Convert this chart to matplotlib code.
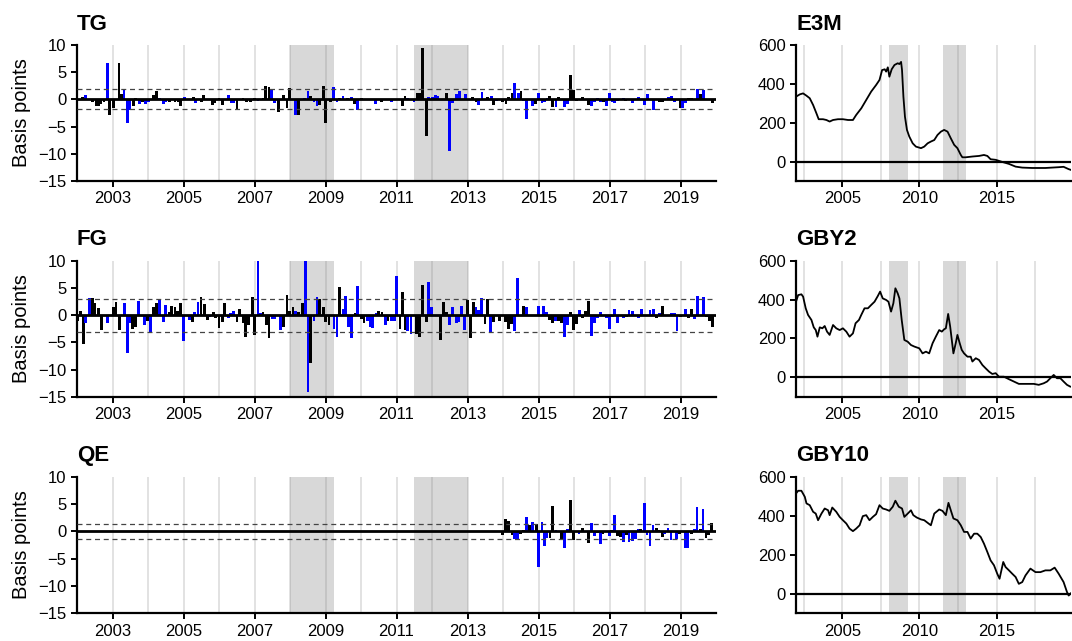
import matplotlib.pyplot as plt

plt.rcParams['font.family'] = ['Liberation Sans', 'DejaVu Sans']

# policy surprise factors: (months since Jan 2002, basis points, colour code)
tg_events = [
    (1.9, 0.4, 'k'), (3.0, 0.8, 'b'), (5.3, -0.4, 'k'), (6.4, -1.3, 'k'), (7.2, -1.3, 'k'),
    (8.0, -0.8, 'k'), (9.1, -0.4, 'k'), (10.2, 6.6, 'b'), (11.1, -2.9, 'k'), (12.3, -1.6, 'k'),
    (14.2, 6.6, 'k'), (15.1, 1.0, 'k'), (15.9, 2.0, 'b'), (17.0, -4.3, 'b'), (17.9, -2.0, 'b'),
    (19.0, -1.2, 'k'), (19.9, 0.3, 'k'), (21.0, -0.8, 'b'), (22.0, -0.4, 'k'), (23.2, -0.8, 'b'),
    (24.1, -0.4, 'b'), (26.0, 0.9, 'k'), (26.9, 1.6, 'k'), (28.0, 0.3, 'b'), (29.1, -0.8, 'b'),
    (30.0, -0.5, 'b'), (31.2, -0.5, 'k'), (33.1, -0.4, 'k'), (34.2, -0.5, 'k'), (35.1, -1.2, 'k'),
    (36.2, 0.5, 'b'), (39.3, 0.4, 'k'), (40.1, -0.6, 'b'), (42.1, -0.4, 'k'), (42.9, 0.8, 'k'),
    (45.8, -1.0, 'k'), (46.6, -0.6, 'k'), (48.0, 0.2, 'k'), (49.2, -1.0, 'k'), (51.1, 0.8, 'b'),
    (52.2, -0.6, 'b'), (53.0, -0.6, 'b'), (54.1, -1.7, 'k'), (56.1, 0.3, 'k'), (57.3, -0.4, 'k'),
    (58.6, -0.4, 'k'), (60.1, 0.3, 'k'), (61.2, -0.3, 'b'), (62.9, 0.3, 'k'), (63.8, 2.5, 'k'),
    (64.9, 2.3, 'k'), (65.8, 1.8, 'b'), (66.8, -0.7, 'b'), (68.0, -2.4, 'k'), (69.9, 0.8, 'k'),
    (71.0, -1.5, 'k'), (71.9, 2.1, 'k'), (73.9, -2.8, 'b'), (74.9, -2.8, 'k'), (76.9, 0.2, 'b'),
    (78.1, 1.5, 'b'), (78.9, 0.6, 'k'), (80.1, -0.4, 'b'), (81.1, -1.2, 'b'), (82.0, -1.0, 'k'),
    (83.2, 2.5, 'k'), (84.0, -4.3, 'k'), (85.6, -0.4, 'k'), (86.7, 2.3, 'b'), (87.9, -0.4, 'b'),
    (88.8, 0.3, 'k'), (89.9, 0.7, 'b'), (91.3, 0.3, 'k'), (92.7, 0.5, 'b'), (93.8, -0.8, 'k'),
    (94.9, -2.0, 'b'), (96.1, 0.3, 'k'), (100.9, -0.8, 'b'), (103.0, -0.4, 'k'), (106.2, -0.4, 'b'),
    (109.9, -1.2, 'k'), (110.9, 0.6, 'k'), (111.8, 0.2, 'b'), (113.9, -0.5, 'b'), (115.2, 1.2, 'k'),
    (116.0, 1.2, 'k'), (116.9, 9.4, 'k'), (118.0, -6.7, 'k'), (118.9, 0.5, 'b'), (120.1, 0.4, 'b'),
    (121.1, 0.9, 'b'), (122.0, 0.6, 'b'), (125.0, 1.2, 'k'), (125.9, -9.5, 'b'), (127.0, -0.7, 'b'),
    (128.2, 1.0, 'b'), (129.3, 1.6, 'b'), (131.2, 1.0, 'b'), (133.8, 0.4, 'k'), (134.9, -0.4, 'k'),
    (135.8, -1.1, 'b'), (136.9, 1.3, 'b'), (138.9, 0.4, 'k'), (140.0, 0.6, 'b'), (140.9, -1.0, 'k'),
    (141.9, -0.3, 'b'), (143.9, -0.5, 'k'), (145.0, -0.8, 'k'), (145.9, 0.5, 'k'), (147.1, 1.1, 'k'),
    (147.9, 3.0, 'b'), (149.1, 1.1, 'b'), (150.1, 1.5, 'k'), (151.0, -0.3, 'b'), (152.0, -3.6, 'b'),
    (154.0, -1.2, 'b'), (154.9, -0.8, 'k'), (156.1, 1.2, 'b'), (157.2, -0.7, 'b'), (158.0, -0.4, 'b'),
    (158.9, 0.3, 'b'), (159.6, 0.6, 'k'), (160.8, -1.4, 'k'), (161.9, -1.4, 'b'), (162.8, 0.4, 'k'),
    (164.7, -1.4, 'b'), (165.9, -0.8, 'b'), (166.9, 4.4, 'k'), (167.8, 1.7, 'k'), (168.9, -0.3, 'k'),
    (170.9, 0.4, 'k'), (172.8, -1.0, 'k'), (174.0, -1.2, 'b'), (174.9, -0.5, 'b'), (176.0, 0.3, 'b'),
    (176.9, -0.4, 'b'), (178.0, -0.4, 'k'), (179.0, -1.2, 'b'), (179.9, 1.2, 'b'), (181.0, -0.4, 'b'),
    (181.8, -0.7, 'b'), (182.7, -0.3, 'b'), (184.7, 0.3, 'b'), (185.5, -0.3, 'k'), (187.8, -0.6, 'b'),
    (189.8, 0.5, 'b'), (191.7, -1.0, 'b'), (192.9, 1.0, 'b'), (194.9, -2.0, 'b'), (196.8, -0.4, 'k'),
    (197.9, -0.5, 'k'), (199.9, 0.4, 'b'), (201.0, 0.7, 'b'), (201.9, -0.4, 'b'), (203.9, -1.6, 'k'),
    (204.7, -1.5, 'b'), (205.6, -0.6, 'b'), (206.7, 0.3, 'k'), (207.6, 0.3, 'k'), (209.7, 1.9, 'b'),
    (210.9, 1.0, 'k'), (211.7, 1.7, 'b'), (214.8, -0.6, 'k'),
]

fg_events = [
    (0.2, -1.0, 'k'), (1.2, 0.8, 'k'), (2.1, -5.3, 'k'), (3.0, -1.4, 'b'), (4.2, 3.2, 'b'),
    (5.1, 3.2, 'k'), (6.1, 2.3, 'k'), (7.2, 1.3, 'k'), (8.2, -2.8, 'k'), (10.2, -1.4, 'b'),
    (12.3, 1.4, 'k'), (13.2, 2.5, 'k'), (14.3, -2.7, 'k'), (16.0, 2.3, 'b'), (17.0, -6.9, 'b'),
    (17.9, -1.4, 'b'), (18.8, -2.6, 'k'), (19.9, -2.1, 'k'), (20.9, 2.6, 'b'), (22.9, -1.8, 'b'),
    (23.9, -1.0, 'k'), (24.9, -3.3, 'b'), (26.0, 1.4, 'k'), (26.9, 2.3, 'k'), (28.0, 3.0, 'b'),
    (29.1, -1.2, 'b'), (30.0, 1.8, 'b'), (31.1, 0.6, 'k'), (31.9, 1.7, 'k'), (33.1, 1.4, 'k'),
    (34.0, 0.7, 'k'), (35.0, 2.3, 'k'), (36.1, -4.8, 'b'), (38.1, -0.9, 'b'), (39.0, -1.3, 'k'),
    (39.8, 0.6, 'b'), (40.9, 2.5, 'b'), (41.9, 3.3, 'k'), (43.0, 2.1, 'k'), (44.0, -0.9, 'k'),
    (44.9, -0.4, 'b'), (46.0, 0.5, 'k'), (46.9, -0.5, 'k'), (48.0, -2.4, 'k'), (49.1, -1.3, 'k'),
    (49.9, 2.2, 'k'), (51.1, -0.5, 'b'), (52.0, 0.3, 'b'), (53.0, 0.8, 'b'), (54.1, -1.2, 'k'),
    (55.0, 1.2, 'k'), (56.1, -1.4, 'k'), (57.0, -4.0, 'k'), (58.1, -1.8, 'k'), (59.2, 3.4, 'k'),
    (60.1, -3.7, 'k'), (61.2, 10.0, 'b'), (62.1, 0.3, 'b'), (62.9, 0.5, 'k'), (64.0, -1.8, 'k'),
    (64.9, -4.2, 'k'), (65.9, -0.7, 'b'), (66.8, -0.7, 'b'), (68.8, -2.7, 'b'), (69.9, -2.2, 'k'),
    (71.0, 3.7, 'k'), (71.9, 0.7, 'k'), (73.0, 1.4, 'k'), (73.9, 0.8, 'b'), (75.0, 0.5, 'k'),
    (76.1, 2.3, 'k'), (77.2, 10.0, 'b'), (78.1, -14.2, 'b'), (79.0, -8.8, 'k'), (80.1, -1.0, 'b'),
    (81.1, 3.4, 'b'), (82.0, 2.9, 'k'), (83.2, 1.4, 'k'), (84.0, -1.3, 'k'), (85.2, -1.8, 'k'),
    (86.9, -2.6, 'b'), (87.9, -4.0, 'b'), (88.8, 5.2, 'k'), (89.9, 1.2, 'b'), (90.8, 3.6, 'b'),
    (91.9, -2.2, 'b'), (92.9, -4.2, 'b'), (94.1, 0.4, 'k'), (94.9, 5.4, 'b'), (96.1, -0.8, 'k'),
    (97.0, -1.4, 'k'), (98.3, -1.0, 'b'), (99.1, -2.2, 'b'), (100.0, -2.4, 'b'), (101.1, 0.3, 'b'),
    (102.0, 0.8, 'k'), (103.1, 0.5, 'k'), (104.2, -1.8, 'b'), (105.1, -1.0, 'k'), (106.2, -1.0, 'b'),
    (107.3, -1.0, 'b'), (108.1, 7.1, 'b'), (109.2, -2.5, 'k'), (109.9, 4.3, 'k'), (110.9, -2.7, 'k'),
    (111.8, -3.0, 'b'), (112.9, -3.5, 'b'), (114.7, -3.5, 'k'), (115.8, -4.0, 'k'), (116.9, 5.6, 'k'),
    (118.0, -1.2, 'k'), (118.9, 6.1, 'b'), (119.9, 1.4, 'b'), (122.9, -4.5, 'k'), (124.0, 2.5, 'k'),
    (125.0, 0.5, 'k'), (125.9, -1.9, 'b'), (127.0, 1.4, 'b'), (128.2, -1.4, 'b'), (129.1, -1.3, 'b'),
    (130.0, 1.7, 'b'), (131.1, -2.8, 'b'), (132.1, 2.8, 'k'), (133.1, -4.2, 'k'), (133.9, 2.4, 'k'),
    (134.9, 1.5, 'b'), (135.8, 1.0, 'b'), (136.8, 3.2, 'b'), (137.9, -1.7, 'k'), (138.9, 2.9, 'k'),
    (139.9, -3.3, 'b'), (140.9, -1.2, 'k'), (142.8, -1.0, 'k'), (144.8, -1.2, 'k'), (145.9, -2.5, 'k'),
    (146.9, -1.6, 'k'), (147.9, -3.0, 'b'), (149.0, 6.8, 'b'), (151.0, 1.6, 'k'), (152.0, 1.4, 'b'),
    (156.1, 1.6, 'b'), (157.8, 1.6, 'b'), (158.8, 0.6, 'b'), (159.6, -0.9, 'k'), (160.8, -1.4, 'k'),
    (161.7, -1.0, 'b'), (162.8, -1.0, 'k'), (163.8, -1.4, 'k'), (164.8, -4.0, 'b'), (165.7, -1.8, 'b'),
    (166.7, 0.6, 'k'), (167.9, -2.7, 'k'), (168.9, -1.7, 'k'), (169.8, 1.0, 'b'), (170.9, -0.5, 'k'),
    (172.0, 0.7, 'k'), (172.9, 2.6, 'k'), (174.0, -3.9, 'b'), (174.9, -1.5, 'b'), (176.0, -0.5, 'b'),
    (176.9, 0.6, 'b'), (179.0, -0.5, 'b'), (179.9, -2.6, 'b'), (181.0, -0.3, 'b'), (181.8, 1.1, 'b'),
    (182.7, -1.4, 'b'), (184.7, -0.5, 'b'), (185.7, -0.3, 'k'), (186.6, 1.0, 'b'), (187.8, 0.8, 'b'),
    (188.9, -0.2, 'k'), (189.8, -0.6, 'b'), (190.9, 1.2, 'b'), (193.7, 1.0, 'b'), (194.9, 1.1, 'b'),
    (195.9, -0.6, 'k'), (197.0, 0.4, 'b'), (197.9, 1.7, 'k'), (201.0, 0.3, 'b'), (201.9, 0.3, 'b'),
    (202.8, -2.9, 'b'), (203.9, -0.4, 'k'), (204.9, -0.2, 'b'), (205.8, 1.2, 'b'), (206.7, -0.6, 'k'),
    (207.7, 1.2, 'k'), (208.8, -0.8, 'b'), (209.7, 3.6, 'b'), (211.7, 3.3, 'b'), (212.9, -0.4, 'k'),
    (213.7, -1.0, 'k'), (214.8, -2.1, 'k'),
]

qe_events = [
    (143.9, -0.6, 'k'), (144.8, 2.3, 'k'), (145.9, 1.9, 'k'), (147.1, -0.7, 'k'), (148.0, -1.4, 'b'),
    (149.0, -1.4, 'b'), (150.0, -0.4, 'k'), (150.9, 0.2, 'k'), (152.0, 2.7, 'b'), (152.9, 1.2, 'k'),
    (154.0, 1.7, 'b'), (155.2, 1.4, 'k'), (156.1, -6.6, 'b'), (157.2, 1.7, 'b'), (157.9, -2.7, 'b'),
    (158.9, -1.2, 'b'), (159.9, -1.3, 'k'), (160.8, 4.6, 'k'), (161.9, 0.3, 'b'), (163.9, -1.5, 'k'),
    (164.9, -3.0, 'b'), (165.8, 0.4, 'b'), (166.7, 5.8, 'k'), (167.8, -1.5, 'k'), (169.7, -0.4, 'b'),
    (170.9, 0.6, 'k'), (172.9, -2.2, 'k'), (173.9, 1.6, 'b'), (174.9, -0.8, 'b'), (175.9, -0.3, 'k'),
    (176.9, -2.4, 'b'), (177.8, -0.4, 'k'), (179.9, -0.9, 'b'), (180.8, 0.2, 'k'), (181.7, 3.0, 'b'),
    (182.7, -0.9, 'k'), (183.7, -1.0, 'k'), (184.7, -2.0, 'b'), (185.8, -0.7, 'k'), (186.6, -1.9, 'b'),
    (187.8, -1.8, 'b'), (188.7, -1.4, 'b'), (189.8, 0.5, 'b'), (190.6, 0.4, 'k'), (191.7, 5.2, 'b'),
    (192.7, -0.6, 'b'), (193.7, -2.6, 'b'), (194.7, 1.2, 'b'), (195.8, 0.7, 'k'), (196.7, 0.3, 'k'),
    (197.8, -1.1, 'k'), (198.7, -0.4, 'b'), (199.8, 0.6, 'b'), (200.8, -1.6, 'b'), (202.6, -1.4, 'b'),
    (203.6, -0.4, 'k'), (205.6, -3.0, 'b'), (206.5, -3.0, 'b'), (207.7, -0.5, 'k'), (208.6, 0.4, 'b'),
    (209.6, 4.5, 'b'), (210.7, 0.4, 'k'), (211.6, 4.0, 'b'), (212.6, -1.3, 'k'), (213.5, -0.6, 'k'),
    (214.6, 1.5, 'k'),
]

# standard deviation bands (bp)
band_tg = 1.85
band_fg = 3.05
band_qe = 1.4

# yields, bp
e3m_year = [2002.00, 2002.25, 2002.46, 2002.68, 2002.89, 2003.11, 2003.32, 2003.47, 2003.75, 2003.97,
            2004.18, 2004.40, 2004.72, 2005.04, 2005.37, 2005.69, 2005.90, 2006.23, 2006.55, 2006.87,
            2007.19, 2007.41, 2007.58, 2007.75, 2007.84, 2007.95, 2008.05, 2008.20, 2008.38, 2008.59,
            2008.70, 2008.81, 2008.87, 2008.96, 2009.06, 2009.19, 2009.34, 2009.56, 2009.77, 2010.10,
            2010.31, 2010.53, 2010.74, 2010.96, 2011.17, 2011.39, 2011.60, 2011.82, 2012.03, 2012.25,
            2012.46, 2012.68, 2012.78, 2013.00, 2013.43, 2013.86, 2014.18, 2014.40, 2014.61, 2014.94,
            2015.37, 2015.80, 2016.23, 2016.66, 2017.30, 2018.16, 2019.02, 2019.34, 2019.67, 2019.82]
e3m_bp = [334, 346, 351, 339, 326, 291, 249, 218, 218, 214,
          206, 214, 218, 218, 214, 214, 240, 274, 317, 360,
          394, 420, 471, 475, 463, 485, 437, 475, 497, 506,
          502, 513, 471, 334, 231, 163, 129, 94, 77, 69,
          77, 94, 103, 111, 137, 154, 163, 154, 120, 86,
          69, 34, 22, 22, 26, 29, 34, 29, 12, 9,
          -2, -12, -26, -31, -33, -33, -29, -27, -39, -43]

gby2_year = [2002.00, 2002.14, 2002.35, 2002.46, 2002.63, 2002.78, 2003.00, 2003.15, 2003.28, 2003.39,
             2003.54, 2003.71, 2003.86, 2004.01, 2004.18, 2004.40, 2004.61, 2004.83, 2005.04, 2005.26,
             2005.47, 2005.69, 2005.86, 2006.08, 2006.23, 2006.44, 2006.66, 2006.87, 2007.09, 2007.30,
             2007.45, 2007.62, 2007.84, 2007.99, 2008.16, 2008.31, 2008.44, 2008.59, 2008.70, 2008.85,
             2009.02, 2009.24, 2009.45, 2009.67, 2009.99, 2010.20, 2010.42, 2010.63, 2010.85, 2011.06,
             2011.28, 2011.45, 2011.60, 2011.71, 2011.86, 2011.99, 2012.20, 2012.35, 2012.46, 2012.61,
             2012.74, 2012.89, 2013.11, 2013.32, 2013.43, 2013.65, 2013.86, 2014.08, 2014.29, 2014.51,
             2014.72, 2014.94, 2015.15, 2015.47, 2015.80, 2016.12, 2016.44, 2016.76, 2017.09, 2017.41,
             2017.73, 2018.05, 2018.27, 2018.48, 2018.70, 2018.91, 2019.13, 2019.34, 2019.56, 2019.77]
gby2_bp = [389, 423, 427, 415, 355, 321, 295, 257, 243, 209,
           257, 252, 264, 235, 218, 269, 252, 243, 252, 235,
           209, 226, 278, 295, 321, 355, 355, 372, 389, 418,
           441, 406, 398, 389, 338, 381, 458, 432, 406, 295,
           192, 183, 166, 158, 149, 123, 132, 123, 175, 209,
           243, 235, 247, 252, 326, 261, 123, 175, 218, 175,
           141, 123, 106, 106, 81, 98, 89, 63, 46, 29,
           17, 21, 3, 3, -10, -22, -34, -34, -34, -34,
           -39, -31, -22, -5, 12, -5, -5, -22, -39, -48]

gby10_year = [2002.00, 2002.14, 2002.35, 2002.57, 2002.68, 2002.89, 2003.11, 2003.28, 2003.43, 2003.65,
              2003.86, 2004.08, 2004.18, 2004.35, 2004.61, 2004.83, 2005.04, 2005.26, 2005.47, 2005.69,
              2005.90, 2006.12, 2006.33, 2006.55, 2006.76, 2006.98, 2007.19, 2007.41, 2007.62, 2007.84,
              2008.05, 2008.27, 2008.44, 2008.66, 2008.87, 2009.02, 2009.24, 2009.45, 2009.60, 2009.82,
              2010.10, 2010.31, 2010.59, 2010.74, 2010.96, 2011.28, 2011.49, 2011.71, 2011.88, 2012.03,
              2012.20, 2012.46, 2012.68, 2012.89, 2013.11, 2013.32, 2013.54, 2013.75, 2013.97, 2014.18,
              2014.40, 2014.61, 2014.83, 2015.04, 2015.19, 2015.43, 2015.58, 2015.80, 2016.01, 2016.23,
              2016.44, 2016.66, 2016.87, 2017.19, 2017.52, 2017.84, 2018.16, 2018.48, 2018.76, 2019.02,
              2019.34, 2019.56, 2019.67, 2019.82]
gby10_bp = [514, 528, 528, 497, 463, 454, 420, 411, 377, 411,
            437, 428, 403, 442, 420, 394, 377, 360, 334, 321,
            334, 351, 398, 403, 377, 394, 408, 454, 437, 432,
            425, 446, 477, 446, 437, 394, 411, 428, 403, 391,
            381, 377, 360, 351, 411, 432, 425, 403, 466, 428,
            386, 377, 351, 317, 317, 283, 308, 308, 291, 257,
            214, 171, 146, 103, 77, 163, 137, 120, 103, 86,
            51, 60, 94, 129, 111, 111, 120, 120, 134, 103,
            60, 9, -9, 3]

crisis_spans = [(2008.0, 2009.25), (2011.5, 2013.0)]

W, H = 1072, 641
fig = plt.figure(figsize=(W / 100, H / 100), dpi=100)

rows = [(45, 181), (260.7, 396.7), (476.7, 613.3)]
left_x, left_w = 77, 639
right_x, right_w = 796, 275


def frame(ax, title):
    for s in ['top', 'right']:
        ax.spines[s].set_visible(False)
    for s in ['left', 'bottom']:
        ax.spines[s].set_linewidth(1.6)
    ax.tick_params(axis='both', labelsize=12, width=1.4, length=4, direction='out')
    ax.set_title(title, loc='left', fontsize=16, fontweight='bold', pad=11)
    for a, b in crisis_spans:
        ax.axvspan(a, b, color='#808080', alpha=0.3, lw=0, zorder=1)


def bar_panel(ax, title, events, band):
    frame(ax, title)
    for yr in range(2003, 2020):
        ax.axvline(yr, color='#e2e2e2', lw=1.4, zorder=0)
    xs = [2002 + m / 12 for m, v, c in events]
    vals = [v for m, v, c in events]
    cols = ['#0000ff' if c == 'b' else 'black' for m, v, c in events]
    ax.bar(xs, vals, width=0.08, color=cols, zorder=2)
    ax.axhline(0, color='black', lw=2.0, zorder=4)
    for y in (band, -band):
        ax.axhline(y, color='#444444', lw=0.9, ls=(0, (4, 3)), zorder=3)
    ax.set_xlim(2002, 2020)
    ax.set_ylim(-15, 10)
    ax.set_yticks([-15, -10, -5, 0, 5, 10])
    ax.set_xticks(range(2003, 2020, 2))
    ax.set_ylabel('Basis points', fontsize=14.5, labelpad=5)


def line_panel(ax, title, years, bp):
    frame(ax, title)
    for yr in [2002.5, 2005, 2007.5, 2010, 2012.5, 2015, 2017.5]:
        ax.axvline(yr, color='#e2e2e2', lw=1.4, zorder=0)
    ax.plot(years, bp, color='black', lw=1.3, zorder=3)
    ax.axhline(0, color='black', lw=1.6, zorder=2)
    ax.set_xlim(2002, 2019.82)
    ax.set_ylim(-100, 600)
    ax.set_yticks([0, 200, 400, 600])
    ax.set_xticks([2005, 2010, 2015])


panels_left = [('TG', tg_events, band_tg), ('FG', fg_events, band_fg), ('QE', qe_events, band_qe)]
panels_right = [('E3M', e3m_year, e3m_bp), ('GBY2', gby2_year, gby2_bp), ('GBY10', gby10_year, gby10_bp)]

for (top, bottom), (name, ev, band) in zip(rows, panels_left):
    ax = fig.add_axes([left_x / W, 1 - bottom / H, left_w / W, (bottom - top) / H])
    bar_panel(ax, name, ev, band)

for (top, bottom), (name, yrs, bp) in zip(rows, panels_right):
    ax = fig.add_axes([right_x / W, 1 - bottom / H, right_w / W, (bottom - top) / H])
    line_panel(ax, name, yrs, bp)

fig.savefig('out.png', dpi=100)
